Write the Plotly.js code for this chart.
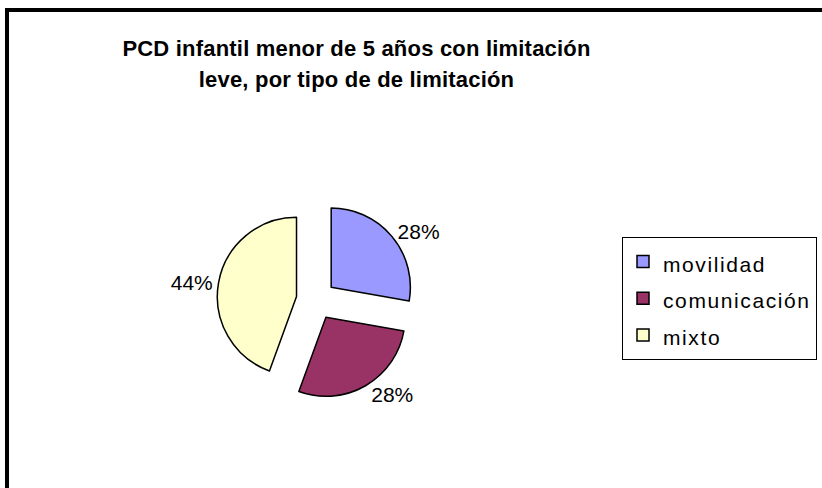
<!DOCTYPE html>
<html>
<head>
<meta charset="utf-8">
<script src="https://cdn.plot.ly/plotly-3.0.1.min.js"></script>
<style>
html,body{margin:0;padding:0;background:#fff;}
#chart{width:822px;height:488px;}
</style>
</head>
<body>
<div id="chart"></div>
<script>
var categories = ['movilidad', 'comunicación', 'mixto'];
var values = [5, 5, 8];
var sliceColors = ['#9999FF', '#993366', '#FFFFCC'];
var titleLines = ['PCD infantil menor de 5 años con limitación', 'leve, por tipo de de limitación'];

var legendLabels = categories.map(function (c) {
  return '<span style="font-size:21px;letter-spacing:1.6px">' + c + '</span>';
});
var titleText = titleLines.map(function (t) {
  return '<span style="font-size:22px;letter-spacing:0.2px">' + t + '</span>';
}).join('<br>');

var trace = {
  type: 'pie',
  labels: legendLabels,
  values: values,
  sort: false,
  direction: 'clockwise',
  rotation: 0,
  pull: [0.25, 0.25, 0.25],
  marker: { colors: sliceColors, line: { color: '#000000', width: 1.5 } },
  texttemplate: '%{percent:.0%}',
  textposition: 'outside',
  textfont: { family: 'Liberation Sans, Arial, sans-serif', size: 21, color: '#000000' },
  hoverinfo: 'skip',
  domain: { x: [0.264, 0.5049], y: [0.1824, 0.5881] }
};

var layout = {
  width: 822,
  height: 488,
  margin: { l: 0, r: 0, t: 0, b: 0 },
  paper_bgcolor: '#ffffff',
  font: { family: 'Liberation Sans, Arial, sans-serif', color: '#000000' },
  title: {
    text: titleText,
    font: { family: 'Liberation Sans, Arial, sans-serif', size: 24.6, weight: 'bold', color: '#000000' },
    x: 0.4337, xanchor: 'center', xref: 'paper',
    y: 1 - 55.5 / 488, yanchor: 'middle', yref: 'container'
  },
  showlegend: true,
  legend: {
    x: 622 / 822, xanchor: 'left',
    y: 1 - 237 / 488, yanchor: 'top',
    bgcolor: '#ffffff',
    bordercolor: '#000000',
    borderwidth: 1,
    font: { family: 'Liberation Sans, Arial, sans-serif', size: 26, color: '#000000' }
  },
  shapes: [{
    type: 'rect', xref: 'paper', yref: 'paper',
    x0: 7 / 822, x1: 1.1, y0: -0.1, y1: 1 - 10 / 488,
    line: { color: '#000000', width: 4 }, fillcolor: 'rgba(0,0,0,0)', layer: 'below'
  }]
};

Plotly.newPlot('chart', [trace], layout, { displayModeBar: false, staticPlot: true });
</script>
</body>
</html>
